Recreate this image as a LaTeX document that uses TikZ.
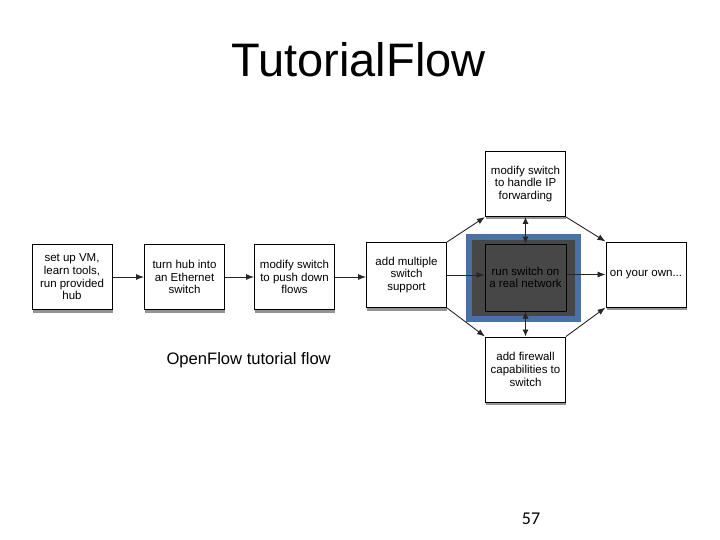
\documentclass[tikz,border=0pt]{standalone}
\usepackage{fontspec}
\setmainfont{Liberation Sans}
\newfontfamily\pagefont{Carlito}
\usetikzlibrary{arrows.meta,shadows}
\definecolor{blueframe}{HTML}{4A70A8}
\definecolor{darkfill}{HTML}{474747}
\tikzset{
  flowbox/.style={draw=black, line width=1pt, fill=white, minimum width=80pt, minimum height=65pt,
    inner sep=0pt, align=center, font=\fontsize{11.5}{12.7}\selectfont,
    drop shadow={shadow xshift=0.5pt, shadow yshift=-3pt, opacity=0.6, fill=black!70}},
  conn/.style={line width=0.9pt, draw=black!85, -{Latex[length=8pt,width=6pt]}},
  dconn/.style={line width=0.9pt, draw=black!85, {Latex[length=7pt,width=6pt]}-{Latex[length=7pt,width=6pt]}}
}
\begin{document}
\begin{tikzpicture}[x=1pt,y=-1pt]
\useasboundingbox (0,0) rectangle (720,540);
\node[anchor=base, font=\fontsize{47}{50}\selectfont] (title) at (358.5,77) {TutorialFlow};

\node[flowbox] (b1) at (72,277) {set up VM,\\ learn tools,\\ run provided\\ hub};
\node[flowbox] (b2) at (184.5,277) {turn hub into\\ an Ethernet\\ switch};
\node[flowbox] (b3) at (294.5,277) {modify switch\\ to push down\\ flows};
\node[flowbox] (b4) at (406.5,275) {add multiple\\ switch\\ support};
\node[flowbox] (top) at (525.5,184) {modify switch\\ to handle IP\\ forwarding};
\node[flowbox] (bot) at (525.5,369.5) {add firewall\\ capabilities to\\ switch};
\node[flowbox] (own) at (646,274.5) {on your own...};

\node[draw=blueframe, line width=6pt, fill=darkfill, minimum width=109pt, minimum height=82pt, inner sep=0pt] (outer) at (523.5,278) {};
\node[draw=black, line width=1pt, minimum width=81pt, minimum height=67pt, inner sep=0pt, align=center,
  text=black, font=\fontsize{11.5}{12.7}\selectfont] (inner) at (525.5,277.5) {run switch on\\ a real network};

\draw[conn] (b1) -- (b2);
\draw[conn] (b2) -- (b3);
\draw[conn] (b3.east) -- (b4.west |- b3.east);
\draw[conn] (b4.east) -- (inner.west |- b4.east);
\draw[conn] (inner.east |- own.west) -- (own.west);
\draw[conn] (b4.north east) -- (top.south west);
\draw[conn] (b4.south east) -- (bot.north west);
\draw[conn] (top.south east) -- (own.north west);
\draw[conn] (bot.north east) -- (own.south west);
\draw[dconn] (top.south) -- (inner.north);
\draw[dconn] (inner.south) -- (bot.north);

\node[anchor=base west, font=\fontsize{16.6}{18}\selectfont] (cap) at (163,364) {OpenFlow tutorial flow};
\node[anchor=base, font=\pagefont\fontsize{18}{20}\selectfont] (page) at (531,524) {57};
\end{tikzpicture}
\end{document}
